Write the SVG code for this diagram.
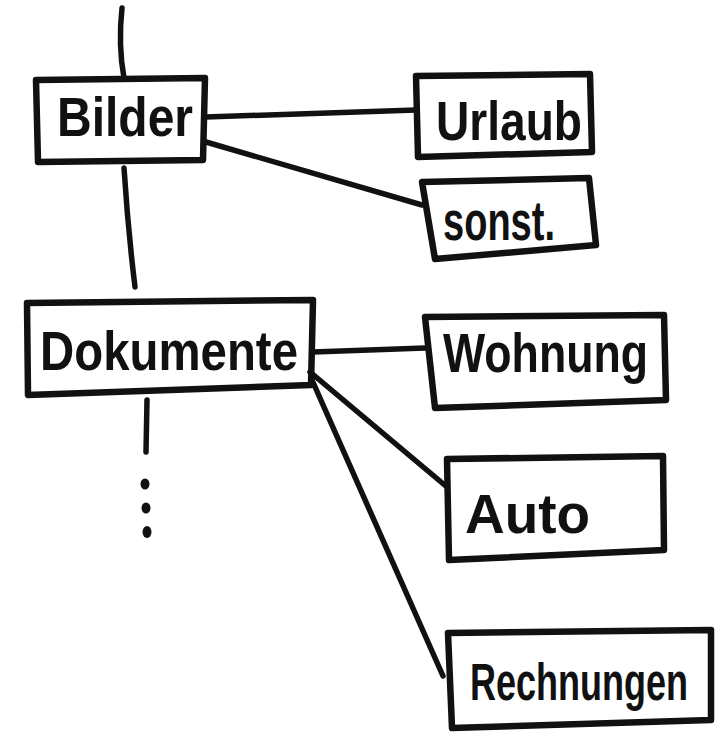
<svg xmlns="http://www.w3.org/2000/svg" width="718" height="735" viewBox="0 0 718 735">
<style>
.box{fill:none;stroke:#111;stroke-width:6.5;stroke-linejoin:round;stroke-linecap:round}
.edge{fill:none;stroke:#111;stroke-width:5.5;stroke-linecap:round}
.lbl{font-family:"Liberation Sans","DejaVu Sans",sans-serif;font-weight:bold;font-size:56px;fill:#111}
.dot{fill:#111}
</style>
<rect width="718" height="735" fill="#fff"/>
<g id="connectors">
<path class="edge" d="M122,8 Q118,45 124,78"/>
<path class="edge" d="M124,168 Q128,230 135,287"/>
<path class="edge" d="M206,117 L416,110"/>
<path class="edge" d="M206,142 L422,205"/>
<path class="edge" d="M313,352 L425,348"/>
<path class="edge" d="M310,372 L447,487"/>
<path class="edge" d="M312,380 L443,676"/>
<path class="edge" d="M147,400 L146,452"/>
<ellipse class="dot" cx="145" cy="484" rx="4.5" ry="5.5"/>
<ellipse class="dot" cx="146" cy="508" rx="4.5" ry="5.5"/>
<ellipse class="dot" cx="147" cy="532" rx="4.5" ry="6"/>
</g>
<g id="bilder">
<path class="box" d="M36,80 L205,78 L203,160 L38,162 Z"/>
<text class="lbl" x="57" y="136" textLength="136" lengthAdjust="spacingAndGlyphs">Bilder</text>
</g>
<g id="urlaub">
<path class="box" d="M416,76 L590,74 L592,152 L418,157 Z"/>
<text class="lbl" x="436" y="140" textLength="146" lengthAdjust="spacingAndGlyphs">Urlaub</text>
</g>
<g id="sonst">
<path class="box" d="M422,182 L589,178 L596,245 L435,259 Z"/>
<text class="lbl" x="443" y="240" textLength="112" lengthAdjust="spacingAndGlyphs">sonst.</text>
</g>
<g id="dokumente">
<path class="box" d="M27,303 L313,300 L311,385 L28,395 Z"/>
<text class="lbl" x="40" y="370" textLength="258" lengthAdjust="spacingAndGlyphs">Dokumente</text>
</g>
<g id="wohnung">
<path class="box" d="M425,317 L664,315 L666,400 L435,408 Z"/>
<text class="lbl" x="443" y="372" textLength="205" lengthAdjust="spacingAndGlyphs">Wohnung</text>
</g>
<g id="auto">
<path class="box" d="M447,459 L663,456 L664,550 L449,560 Z"/>
<text class="lbl" x="465" y="533" textLength="125" lengthAdjust="spacingAndGlyphs">Auto</text>
</g>
<g id="rechnungen">
<path class="box" d="M448,633 L711,630 L711,720 L452,728 Z"/>
<text class="lbl" transform="translate(470,700) scale(1,1.3)" x="0" y="0" style="font-size:40px" textLength="218" lengthAdjust="spacingAndGlyphs">Rechnungen</text>
</g>
</svg>
